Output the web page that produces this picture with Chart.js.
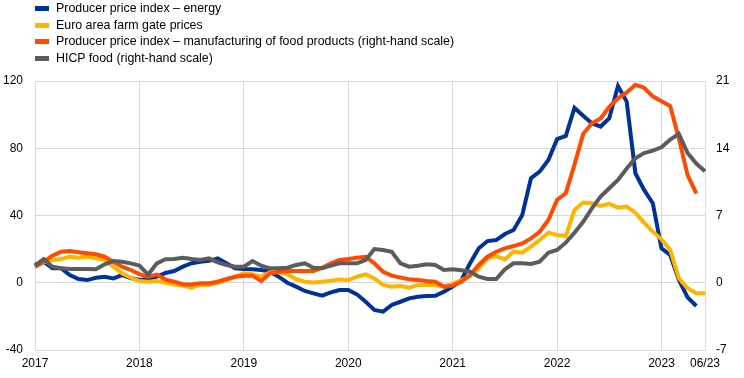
<!DOCTYPE html>
<html><head><meta charset="utf-8">
<script src="https://cdn.jsdelivr.net/npm/chart.js@4"></script>
<style>
html,body{margin:0;padding:0;background:#fff;}
#wrap{position:relative;width:744px;height:378px;overflow:hidden;}
#legend{position:absolute;left:35px;top:0;font:12.4px "Liberation Sans",Arial,sans-serif;color:#000;}
.li{position:absolute;left:0;white-space:nowrap;height:17px;line-height:17px;}
.sw{position:absolute;left:0;top:6px;width:14px;height:5px;}
.tx{position:absolute;left:21px;top:0;}
canvas{position:absolute;left:0;top:0;}
</style>
</head><body>
<div id="wrap">
<canvas id="c" width="744" height="378"></canvas>
<div id="legend"></div>
</div>
<script>
// Monthly categories Jan 2017 - Jun 2023
const months = [
"01/17","02/17","03/17","04/17","05/17","06/17","07/17","08/17","09/17","10/17","11/17","12/17",
"01/18","02/18","03/18","04/18","05/18","06/18","07/18","08/18","09/18","10/18","11/18","12/18",
"01/19","02/19","03/19","04/19","05/19","06/19","07/19","08/19","09/19","10/19","11/19","12/19",
"01/20","02/20","03/20","04/20","05/20","06/20","07/20","08/20","09/20","10/20","11/20","12/20",
"01/21","02/21","03/21","04/21","05/21","06/21","07/21","08/21","09/21","10/21","11/21","12/21",
"01/22","02/22","03/22","04/22","05/22","06/22","07/22","08/22","09/22","10/22","11/22","12/22",
"01/23","02/23","03/23","04/23","05/23","06/23"];

// x-axis tick labels shown (category -> text)
const xTickLabels = {"01/17":"2017","01/18":"2018","01/19":"2019","01/20":"2020","01/21":"2021","01/22":"2022","01/23":"2023","06/23":"06/23"};

const leftTicks = [-40, 0, 40, 80, 120];
const rightTicks = [-7, 0, 7, 14, 21];

// Producer price index - energy (left scale)
const ppiEnergy = [
10.6,12.5,8.6,8.6,4.6,2.2,1.6,3.0,3.6,2.6,4.6,2.8,
1.6,2.2,3.7,5.8,7.0,9.6,11.6,12.5,13.0,14.5,11.6,8.6,
8.2,8.0,7.6,6.6,3.6,0.0,-2.3,-4.9,-6.3,-7.7,-5.7,-4.3,
-4.3,-6.9,-11.3,-16.2,-17.2,-13.2,-11.3,-9.3,-8.3,-7.9,-7.7,-5.3,
-2.3,1.6,11.6,20.5,24.8,25.4,29.0,31.4,40.3,62.2,66.1,73.0,
85.4,87.3,104.0,99.3,94.9,92.9,97.9,117.0,107.8,65.1,55.2,47.3,
20.5,16.5,1.6,-8.7,-13.8,null];

// Euro area farm gate prices (left scale)
const farmGate = [
9.6,12.2,13.5,14.1,15.5,14.9,15.5,14.5,13.5,9.6,5.6,3.0,
1.0,0.6,1.0,0.0,-1.0,-1.7,-2.9,-1.3,-1.3,0.0,1.6,3.6,
5.6,5.0,3.6,6.2,6.2,5.0,2.2,0.6,0.1,0.6,1.2,2.0,
1.6,3.6,5.0,2.6,-1.3,-2.3,-2.0,-2.9,-1.3,-1.3,-1.3,-2.3,
-0.7,1.6,4.0,8.6,14.5,15.9,13.9,18.5,17.9,21.5,25.4,29.8,
28.4,27.8,43.3,47.7,47.3,45.7,46.9,44.7,45.3,41.7,35.8,30.4,
25.8,19.5,2.6,-3.3,-6.3,-6.3];

// Producer price index - manufacturing of food products (right scale)
const ppiFood = [
1.67,2.19,2.82,3.23,3.30,3.17,3.06,2.96,2.71,2.19,1.67,1.33,
0.90,0.62,0.85,0.33,0.11,-0.17,-0.17,-0.06,-0.06,0.11,0.39,0.63,
0.74,0.74,0.18,0.98,1.15,1.22,1.22,1.22,1.22,1.57,2.02,2.37,
2.47,2.61,2.71,2.02,1.15,0.74,0.53,0.36,0.29,0.18,0.11,-0.41,
-0.30,0.11,0.81,1.85,2.71,3.23,3.58,3.82,4.10,4.62,5.31,6.53,
8.61,9.31,12.3,15.5,16.6,17.1,18.3,19.2,19.8,20.6,20.3,19.4,
18.9,18.4,15.0,11.2,9.3,null];

// HICP food (right scale)
const hicpFood = [
1.78,2.47,1.67,1.50,1.43,1.43,1.43,1.40,1.92,2.26,2.19,2.02,
1.78,0.85,2.02,2.44,2.47,2.61,2.47,2.37,2.54,2.12,1.85,1.67,
1.67,2.26,1.78,1.50,1.50,1.57,1.85,2.02,1.55,1.50,1.78,2.02,
2.02,2.02,2.37,3.51,3.41,3.23,2.02,1.67,1.78,1.92,1.85,1.33,
1.40,1.30,1.15,0.63,0.39,0.39,1.40,2.02,2.02,1.95,2.19,3.13,
3.41,4.17,5.20,6.35,7.74,8.96,9.83,10.7,11.9,12.95,13.5,13.75,
14.1,14.9,15.5,13.5,12.4,11.6];

const seriesNames = [
"Producer price index \u2013 energy",
"Euro area farm gate prices",
"Producer price index \u2013 manufacturing of food products (right-hand scale)",
"HICP food (right-hand scale)"];
const seriesColors = ["#003299","#ffb400","#ff4b00","#5c5c5c"];

// HTML legend
const lg = document.getElementById('legend');
const tops = [0,17,33,50];
seriesNames.forEach((n,i)=>{
  const d = document.createElement('div');
  d.className='li'; d.style.top = tops[i]+'px';
  d.innerHTML = '<span class="sw" style="background:'+seriesColors[i]+'"></span><span class="tx"></span>';
  d.querySelector('.tx').textContent = n;
  lg.appendChild(d);
});

const FONT = {family:'"Liberation Sans", Arial, sans-serif', size:12};
const GRID = '#d9d9d9';

new Chart(document.getElementById('c'), {
  type:'line',
  data:{
    labels: months,
    datasets:[
      {label:seriesNames[0], data:ppiEnergy, yAxisID:'yL', borderColor:seriesColors[0], order:4},
      {label:seriesNames[1], data:farmGate, yAxisID:'yL', borderColor:seriesColors[1], order:3},
      {label:seriesNames[2], data:ppiFood, yAxisID:'yR', borderColor:seriesColors[2], order:2},
      {label:seriesNames[3], data:hicpFood, yAxisID:'yR', borderColor:seriesColors[3], order:1}
    ]
  },
  options:{
    responsive:false,
    animation:false,
    devicePixelRatio:1,
    layout:{padding:{top:81,bottom:0,left:0,right:0}},
    elements:{
      line:{borderWidth:4, tension:0, fill:false, borderCapStyle:'butt', borderJoinStyle:'miter'},
      point:{radius:0, hoverRadius:0}
    },
    plugins:{legend:{display:false}, tooltip:{enabled:false}},
    scales:{
      x:{
        type:'category',
        offset:false,
        grid:{color:GRID, lineWidth:1, drawTicks:false},
        border:{color:GRID},
        ticks:{
          autoSkip:false, maxRotation:0, minRotation:0, padding:6,
          color:'#000', font:FONT,
          callback:function(v){ const l = months[v]; return (l in xTickLabels) ? xTickLabels[l] : null; }
        },
        afterFit:function(s){ s.height = 28; }
      },
      yL:{
        position:'left', min:-40, max:120,
        afterBuildTicks:function(s){ s.ticks = leftTicks.map(v=>({value:v})); },
        grid:{color:GRID, lineWidth:1, drawTicks:false},
        border:{color:GRID},
        ticks:{padding:12, color:'#000', font:FONT},
        afterFit:function(s){ s.width = 35; }
      },
      yR:{
        position:'right', min:-7, max:21,
        afterBuildTicks:function(s){ s.ticks = rightTicks.map(v=>({value:v})); },
        grid:{display:false, drawTicks:false},
        border:{color:GRID},
        ticks:{padding:11, color:'#000', font:FONT},
        afterFit:function(s){ s.width = 39; }
      }
    }
  }
});
</script>
</body></html>
